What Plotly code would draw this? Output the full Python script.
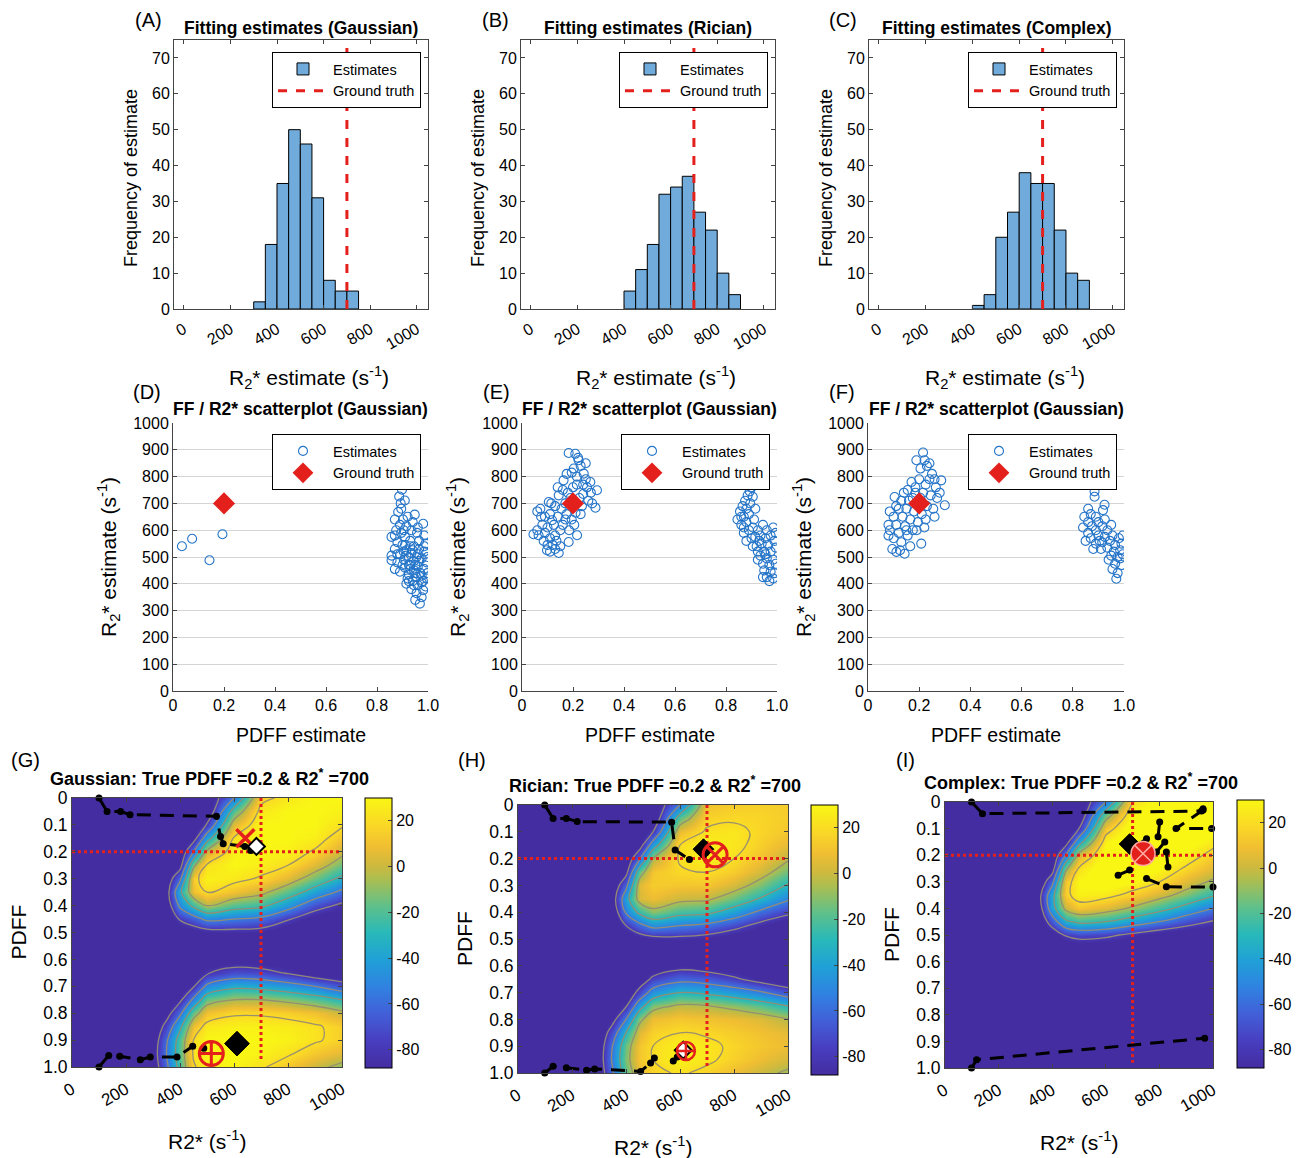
import plotly.graph_objects as go

W, H = 1303, 1158
OFF = 8  # default page (body) margin of the browser
FW, FH = W - OFF, H - OFF
FONT = 'Liberation Sans, Arial, Helvetica, sans-serif'

# ---------------- Row 1: histograms ----------------
HIST_A_CENTERS = [325, 375, 425, 475, 525, 575, 625, 675, 725]
HIST_A_COUNTS = [2, 18, 35, 50, 46, 31, 8, 5, 5]
HIST_B_CENTERS = [425, 475, 525, 575, 625, 675, 725, 775, 825, 875]
HIST_B_COUNTS = [5, 11, 18, 32, 34, 37, 27, 22, 10, 4]
HIST_C_CENTERS = [425, 475, 525, 575, 625, 675, 725, 775, 825, 875]
HIST_C_COUNTS = [1, 4, 20, 27, 38, 35, 35, 22, 10, 8]
TRUE_R2 = 700
TRUE_PDFF = 0.2
HIST_TITLES = ['Fitting estimates (Gaussian)', 'Fitting estimates (Rician)', 'Fitting estimates (Complex)']

# ---------------- Row 2: scatter estimates ----------------
D_X = [0.035, 0.075, 0.143, 0.194,
       0.898, 0.887, 0.909, 0.893, 0.883, 0.948, 0.981, 0.902, 0.915, 0.870, 0.935, 0.957, 0.875, 0.895, 0.857,
       0.910, 0.930, 0.965, 0.990, 0.880, 0.900, 0.945, 0.870, 0.915, 0.985, 0.935, 0.960, 0.890, 0.857, 0.925,
       0.975, 0.905, 0.945, 0.857, 0.880, 0.995, 0.930, 0.960, 0.910, 0.985, 0.945, 0.890, 0.970, 0.925, 0.955,
       0.995, 0.940, 0.975, 0.915, 0.960, 0.990, 0.935, 0.981, 0.955, 0.975, 0.968, 0.950, 0.920, 0.900, 0.870,
       0.880, 0.950, 0.930, 0.965, 0.905, 0.920, 0.940, 0.890, 0.985, 0.998, 0.998, 0.960, 0.980, 0.945, 0.925,
       0.910, 0.870, 0.895, 0.915, 0.940, 0.965, 0.985, 0.930, 0.955, 0.905, 0.975, 0.925, 0.950]
D_Y = [540, 568, 488, 585,
       751, 726, 711, 700, 668, 658, 624, 640, 615, 640, 600, 590, 600, 590, 575,
       575, 560, 560, 550, 555, 545, 540, 530, 525, 520, 515, 510, 510, 505, 500,
       495, 490, 485, 488, 480, 480, 470, 465, 460, 455, 450, 445, 440, 435, 425,
       420, 410, 405, 400, 395, 390, 380, 376, 365, 350, 326, 340, 420, 470, 455,
       510, 470, 540, 530, 600, 650, 630, 620, 580, 500, 440, 610, 410, 395, 470,
       545, 580, 680, 505, 525, 485, 540, 455, 500, 520, 430, 410, 440]
E_X = [0.183, 0.209, 0.222, 0.203, 0.242, 0.268, 0.294, 0.288, 0.163, 0.144, 0.105, 0.072, 0.065, 0.098, 0.144,
       0.216, 0.183, 0.118, 0.230, 0.250, 0.215, 0.255, 0.240, 0.200, 0.180, 0.225, 0.260, 0.205, 0.170, 0.155,
       0.130, 0.110, 0.090, 0.140, 0.175, 0.195, 0.125, 0.100, 0.080, 0.150, 0.130, 0.110, 0.085, 0.160, 0.060,
       0.045, 0.120, 0.150, 0.100, 0.075, 0.210, 0.235, 0.270, 0.195, 0.215, 0.240, 0.190, 0.160, 0.175, 0.250,
       0.135, 0.090, 0.115, 0.185, 0.205, 0.170, 0.130, 0.110, 0.060, 0.140, 0.230, 0.220, 0.275,
       0.900, 0.893, 0.885, 0.875, 0.905, 0.865, 0.880, 0.895, 0.855, 0.870, 0.890, 0.845, 0.860, 0.880, 0.910,
       0.905, 0.925, 0.890, 0.870, 0.945, 0.960, 0.985, 0.995, 0.935, 0.915, 0.955, 0.900, 0.880, 0.940, 0.965,
       0.990, 0.920, 0.950, 0.975, 0.995, 0.935, 0.960, 0.985, 0.945, 0.970, 0.995, 0.950, 0.975, 0.960, 0.985,
       0.945, 0.970, 0.990, 0.925, 0.905, 0.870, 0.860, 0.915, 0.930, 0.975, 0.955, 0.925]
E_Y = [888, 885, 861, 830, 811, 780, 749, 684, 786, 730, 705, 680, 581, 525, 515,
       581, 556, 637, 840, 790, 800, 760, 735, 760, 740, 720, 710, 700, 700, 680,
       690, 660, 650, 650, 660, 640, 620, 610, 620, 600, 580, 570, 560, 620, 600,
       585, 545, 540, 545, 650, 665, 690, 740, 815, 770, 770, 720, 750, 810, 850,
       560, 590, 700, 600, 620, 640, 530, 520, 670, 760, 660, 870, 700,
       760, 745, 730, 710, 725, 690, 680, 700, 670, 650, 660, 640, 620, 630, 640,
       610, 600, 600, 590, 620, 600, 610, 590, 580, 575, 570, 570, 560, 550, 545,
       560, 540, 520, 520, 535, 505, 495, 490, 475, 470, 475, 450, 445, 425, 420,
       425, 410, 440, 490, 540, 610, 650, 680, 560, 580, 510, 520]
F_X = [0.215, 0.221, 0.189, 0.230, 0.205, 0.250, 0.240, 0.286, 0.265, 0.300, 0.225, 0.200, 0.170, 0.155, 0.185,
       0.215, 0.245, 0.270, 0.104, 0.130, 0.160, 0.195, 0.230, 0.255, 0.120, 0.150, 0.180, 0.210, 0.085, 0.100,
       0.135, 0.165, 0.195, 0.225, 0.080, 0.110, 0.145, 0.175, 0.085, 0.120, 0.155, 0.100, 0.208, 0.130, 0.080,
       0.111, 0.143, 0.125, 0.095, 0.165, 0.185, 0.240, 0.260, 0.205, 0.175, 0.140, 0.110, 0.280, 0.150, 0.190,
       0.220, 0.260,
       0.885, 0.885, 0.924, 0.918, 0.860, 0.845, 0.870, 0.890, 0.900, 0.860, 0.840, 0.875, 0.915, 0.935, 0.950,
       0.890, 0.860, 0.870, 0.900, 0.925, 0.955, 0.980, 0.995, 0.945, 0.915, 0.890, 0.965, 0.990, 0.935, 0.960,
       0.985, 0.910, 0.950, 0.975, 0.995, 0.940, 0.965, 0.990, 0.955, 0.975, 0.970, 0.850, 0.880, 0.925, 0.905,
       0.985]
F_Y = [890, 861, 861, 840, 830, 810, 790, 786, 760, 693, 770, 790, 780, 750, 740,
       740, 730, 720, 724, 710, 710, 705, 690, 680, 680, 680, 670, 660, 670, 650,
       650, 640, 630, 640, 620, 620, 615, 600, 600, 590, 580, 570, 550, 555, 580,
       519, 512, 525, 530, 540, 760, 850, 790, 720, 720, 740, 690, 740, 600, 600,
       610, 650,
       745, 725, 695, 675, 680, 650, 660, 650, 630, 630, 610, 615, 615, 600, 620,
       600, 590, 570, 580, 575, 580, 570, 580, 560, 555, 550, 545, 550, 535, 520,
       525, 530, 505, 500, 510, 490, 475, 470, 455, 440, 419, 560, 530, 640, 560,
       495]
SCATTER_TITLE = 'FF / R2* scatterplot (Gaussian)'

# ---------------- Row 3: likelihood maps ----------------
R_GRID = [0, 200, 300, 350, 400, 450, 500, 600, 700, 800, 900, 1000]
P_GRID = [0.0, 0.05, 0.1, 0.15, 0.2, 0.25, 0.3, 0.35, 0.4, 0.45, 0.5,
          0.55, 0.6, 0.65, 0.7, 0.75, 0.8, 0.85, 0.9, 0.95, 1.0]
G_Z = [
    [-100, -100, -100, -100, -100, -100, -100, -55, 15, 25, 30, 30],
    [-100, -100, -100, -100, -100, -100, -100, -20, 25, 30, 30, 28],
    [-100, -100, -100, -100, -100, -100, -78, 5, 30, 30, 30, 22],
    [-100, -100, -100, -100, -100, -90, -40, 22, 30, 30, 27, 12],
    [-100, -100, -100, -100, -100, -55, 0, 28, 30, 28, 18, 0],
    [-100, -100, -100, -100, -90, -10, 22, 30, 27, 20, 5, -15],
    [-100, -100, -100, -95, -60, 15, 28, 25, 18, 5, -15, -35],
    [-100, -100, -100, -90, -35, 10, 20, 10, 0, -18, -40, -60],
    [-100, -100, -100, -95, -50, -25, -5, -20, -25, -45, -70, -85],
    [-100, -100, -100, -100, -78, -65, -50, -55, -60, -78, -95, -100],
    [-100, -100, -100, -100, -100, -95, -90, -88, -90, -100, -100, -100],
    [-100, -100, -100, -100, -100, -100, -100, -100, -100, -100, -100, -100],
    [-100, -100, -100, -100, -100, -100, -100, -95, -98, -100, -100, -100],
    [-100, -100, -100, -100, -100, -100, -82, -70, -72, -82, -95, -100],
    [-100, -100, -100, -100, -100, -82, -50, -35, -38, -45, -55, -70],
    [-100, -100, -100, -100, -85, -50, -15, -5, -5, -10, -18, -30],
    [-100, -100, -100, -90, -60, -15, 10, 18, 18, 15, 10, 0],
    [-100, -100, -100, -72, -35, 10, 25, 28, 28, 26, 22, 15],
    [-100, -100, -95, -58, -20, 20, 30, 30, 30, 28, 22, 15],
    [-100, -100, -92, -55, -18, 22, 30, 30, 28, 22, 12, 5],
    [-100, -100, -95, -60, -22, 18, 28, 30, 22, 12, 0, -10],
]
H_Z = [
    [-100, -100, -100, -100, -100, -100, -100, -55, 10, 14, 15, 14],
    [-100, -100, -100, -100, -100, -100, -100, -18, 16, 18, 17, 14],
    [-100, -100, -100, -100, -100, -100, -80, 8, 22, 24, 17, 12],
    [-100, -100, -100, -100, -100, -92, -42, 20, 28, 24, 15, 6],
    [-100, -100, -100, -100, -100, -58, -5, 22, 28, 20, 10, -3],
    [-100, -100, -100, -100, -88, -15, 12, 18, 20, 14, 2, -15],
    [-100, -100, -100, -98, -62, 5, 14, 12, 12, 3, -12, -32],
    [-100, -100, -100, -92, -40, 3, 8, 0, -2, -15, -32, -52],
    [-100, -100, -100, -98, -52, -25, -10, -22, -25, -40, -60, -75],
    [-100, -100, -100, -100, -80, -62, -48, -55, -60, -72, -88, -100],
    [-100, -100, -100, -100, -100, -92, -88, -86, -90, -98, -100, -100],
    [-100, -100, -100, -100, -100, -100, -100, -100, -100, -100, -100, -100],
    [-100, -100, -100, -100, -100, -100, -98, -88, -92, -100, -100, -100],
    [-100, -100, -100, -100, -100, -95, -75, -62, -66, -76, -90, -100],
    [-100, -100, -100, -100, -100, -72, -45, -30, -34, -42, -52, -68],
    [-100, -100, -100, -100, -82, -40, -12, -2, -4, -10, -18, -30],
    [-100, -100, -100, -88, -55, -10, 8, 12, 10, 8, 4, -4],
    [-100, -100, -100, -68, -30, 5, 16, 20, 18, 14, 10, 6],
    [-100, -100, -95, -55, -15, 12, 20, 28, 24, 17, 12, 8],
    [-100, -100, -93, -52, -12, 12, 20, 28, 23, 15, 8, 2],
    [-100, -100, -96, -58, -18, 8, 16, 22, 16, 8, 0, -8],
]
I_Z = [
    [-100, -100, -100, -100, -100, -100, -100, -55, 20, 35, 40, 40],
    [-100, -100, -100, -100, -100, -100, -100, -15, 32, 40, 40, 38],
    [-100, -100, -100, -100, -100, -100, -80, 12, 38, 40, 40, 33],
    [-100, -100, -100, -100, -100, -92, -40, 28, 40, 40, 36, 25],
    [-100, -100, -100, -100, -100, -55, 2, 35, 40, 38, 28, 15],
    [-100, -100, -100, -100, -92, -10, 22, 38, 38, 30, 18, 5],
    [-100, -100, -100, -100, -62, 12, 30, 35, 30, 20, 5, -8],
    [-100, -100, -100, -88, -38, 15, 28, 25, 15, 2, -12, -28],
    [-100, -100, -100, -92, -40, 0, 12, 5, -8, -22, -38, -55],
    [-100, -100, -100, -100, -68, -35, -25, -30, -42, -55, -70, -82],
    [-100, -100, -100, -100, -95, -78, -72, -75, -85, -95, -100, -100],
    [-100, -100, -100, -100, -100, -100, -98, -100, -100, -100, -100, -100],
    [-100] * 12, [-100] * 12, [-100] * 12, [-100] * 12, [-100] * 12,
    [-100] * 12, [-100] * 12, [-100] * 12, [-100] * 12,
]
CBAR_TICKS = [20, 0, -20, -40, -60, -80]
MAP_TITLES = ['Gaussian', 'Rician', 'Complex']

# optimisation paths (R2*, PDFF)
G_PATH1_R = [100, 130, 180, 215, 535, 550, 560, 640, 662]
G_PATH1_P = [0.0, 0.05, 0.05, 0.062, 0.068, 0.143, 0.17, 0.18, 0.195]
G_PATH2_R = [100, 136, 177, 253, 290, 389, 447, 488]
G_PATH2_P = [1.0, 0.957, 0.96, 0.973, 0.963, 0.963, 0.923, 0.93]
G_REDX = (642, 0.15)
G_WHITE_D = (683, 0.18)
G_RED_CIRC = (516, 0.95)
G_BLACK_D = (611, 0.913)

H_PATH1_R = [99, 130, 179, 219, 569, 582, 635]
H_PATH1_P = [0.0, 0.05, 0.05, 0.062, 0.064, 0.168, 0.203]
H_PATH2_R = [99, 130, 179, 254, 284, 454, 491, 505, None, 575, 590]
H_PATH2_P = [1.0, 0.975, 0.98, 0.99, 0.985, 0.994, 0.963, 0.944, None, 0.955, 0.94]
H_BLACK_D = (687, 0.165)
H_RED_CIRC = (730, 0.186)
H_WHITE_D = (612, 0.915)
H_RED_CIRC2 = (622, 0.918)

I_DASH_R = [99, 140, 957, 963, None, 963, 862, 995, None, 752, 826, 1000, None, 99, 118, 969]
I_DASH_P = [0.0, 0.044, 0.034, 0.025, None, 0.03, 0.1, 0.1, None, 0.288, 0.319, 0.32, None, 1.0, 0.969, 0.888]
I_SOLID_R = [801, 795, None, 708, 752, None, 820, 789, None, 826, 832, None, 689, 646]
I_SOLID_P = [0.075, 0.131, None, 0.169, 0.138, None, 0.15, 0.188, None, 0.188, 0.244, None, 0.256, 0.275]
I_BLACK_D = (689, 0.158)
I_RED_CIRC = (739, 0.194)

PARULA = [[0.0, 'rgb(68,45,160)'], [0.1, 'rgb(72,62,192)'], [0.2, 'rgb(66,95,216)'],
          [0.3, 'rgb(48,130,225)'], [0.4, 'rgb(32,160,215)'], [0.5, 'rgb(40,185,185)'],
          [0.6, 'rgb(95,192,138)'], [0.7, 'rgb(172,190,80)'], [0.75, 'rgb(206,185,62)'],
          [0.82, 'rgb(240,190,50)'], [0.9, 'rgb(250,216,38)'], [1.0, 'rgb(249,246,20)']]

RED = 'rgb(228,32,28)'
BLUE = 'rgb(36,116,200)'
BAR = 'rgb(112,171,219)'

# ---------------- layout geometry (pixels in the reference picture) ----------------
BOXES = {
    1: (174, 428, 40, 309), 2: (521, 775, 40, 309), 3: (869, 1124, 40, 309),
    4: (173, 428, 423, 691), 5: (522, 777, 423, 691), 6: (868, 1124, 423, 691),
    7: (72, 342, 798, 1067), 8: (518, 788, 805, 1073), 9: (945, 1213, 802, 1068),
}
CBARS = {7: (365, 798, 1068), 8: (811, 805, 1075), 9: (1237, 800, 1068)}


def fx(px):
    return (px - OFF) / FW


def fy(py):
    return 1 - (py - OFF) / FH


def xd(l, r):
    return [fx(l), fx(r)]


def yd(t, b):
    return [fy(b), fy(t)]


fig = go.Figure()
layout = dict(width=FW, height=FH, margin=dict(l=0, r=0, t=0, b=0, autoexpand=False), paper_bgcolor='white',
              plot_bgcolor='white', font=dict(family=FONT, color='black'), showlegend=True)
ann = []


def axn(i):
    return ('x', 'y') if i == 1 else ('x%d' % i, 'y%d' % i)


def text(t, x, y, size, angle=0, anchor='center'):
    ann.append(dict(text=t, x=fx(x), y=fy(y), xref='paper', yref='paper', showarrow=False,
                    font=dict(size=size, family=FONT, color='black'), textangle=angle,
                    xanchor=anchor, yanchor='middle'))


AX_COMMON = dict(showline=True, linecolor='#444', linewidth=1, ticks='inside', ticklen=4,
                 tickcolor='#444', zeroline=False, showgrid=False, automargin=False,
                 tickfont=dict(size=16, family=FONT))

# Row 1 axes + traces
hist = [(HIST_A_CENTERS, HIST_A_COUNTS), (HIST_B_CENTERS, HIST_B_COUNTS), (HIST_C_CENTERS, HIST_C_COUNTS)]
for k in range(3):
    i = k + 1
    l, r, t, b = BOXES[i]
    xa, ya = axn(i)
    lg = 'legend' if i == 1 else 'legend%d' % i
    layout['xaxis' if i == 1 else 'xaxis%d' % i] = dict(
        AX_COMMON, domain=xd(l, r), anchor=ya, range=[-42, 1048], mirror='ticks',
        tickvals=[0, 200, 400, 600, 800, 1000], tickangle=-30, ticklabelstandoff=4)
    layout['yaxis' if i == 1 else 'yaxis%d' % i] = dict(
        AX_COMMON, domain=yd(t, b), anchor=xa, range=[0, 75], mirror='ticks',
        tickvals=list(range(0, 71, 10)))
    cx, cy = hist[k]
    fig.add_trace(go.Bar(x=cx, y=cy, width=50, marker=dict(color=BAR, line=dict(color='black', width=1)),
                         name='Estimates', xaxis=xa, yaxis=ya, legend=lg))
    fig.add_trace(go.Scatter(x=[TRUE_R2, TRUE_R2], y=[0, 75], mode='lines', name='Ground truth',
                             line=dict(color=RED, width=3, dash='dash'), xaxis=xa, yaxis=ya, legend=lg))
    layout[lg] = dict(x=fx(r - 7), y=fy(52), xanchor='right', yanchor='top', bgcolor='white',
                      bordercolor='black', borderwidth=1, font=dict(size=14.5, family=FONT),
                      itemwidth=50, tracegroupgap=0, traceorder='normal')
    cxm = (l + r) / 2
    text('<b>%s</b>' % HIST_TITLES[k], cxm, 28, 17.5)
    text('Frequency of estimate', l - 43, 178, 18, angle=-90)
    text('R<sub>2</sub>* estimate (s<sup>-1</sup>)', cxm + 8, 378, 21)
    text('(%s)' % 'ABC'[k], l - 26, 20, 20)

# Row 2
scat = [(D_X, D_Y), (E_X, E_Y), (F_X, F_Y)]
for k in range(3):
    i = k + 4
    l, r, t, b = BOXES[i]
    xa, ya = axn(i)
    lg = 'legend%d' % i
    layout['xaxis%d' % i] = dict(AX_COMMON, domain=xd(l, r), anchor=ya, range=[0, 1],
                                 tickvals=[0, 0.2, 0.4, 0.6, 0.8, 1.0],
                                 ticktext=['0', '0.2', '0.4', '0.6', '0.8', '1.0'])
    layout['yaxis%d' % i] = dict(AX_COMMON, domain=yd(t, b), anchor=xa, range=[0, 1000],
                                 tickvals=list(range(0, 1001, 100)), showgrid=True,
                                 gridcolor='#d4d4d4', gridwidth=1)
    sx, sy = scat[k]
    fig.add_trace(go.Scatter(x=sx, y=sy, mode='markers', name='Estimates', xaxis=xa, yaxis=ya, legend=lg,
                             marker=dict(symbol='circle-open', size=9, color=BLUE, line=dict(width=1.1))))
    fig.add_trace(go.Scatter(x=[TRUE_PDFF], y=[TRUE_R2], mode='markers', name='Ground truth', xaxis=xa,
                             yaxis=ya, legend=lg,
                             marker=dict(symbol='diamond', size=17, color=RED)))
    layout[lg] = dict(x=fx(r - 7), y=fy(434), xanchor='right', yanchor='top', bgcolor='white',
                      bordercolor='black', borderwidth=1, font=dict(size=14.5, family=FONT),
                      itemwidth=50, tracegroupgap=0, traceorder='normal')
    cxm = (l + r) / 2
    text('<b>%s</b>' % SCATTER_TITLE, cxm, 409, 17.5)
    text('R<sub>2</sub>* estimate (s<sup>-1</sup>)', l - 65, 557, 21, angle=-90)
    text('PDFF estimate', cxm, 735, 19.5)
    text('(%s)' % 'DEF'[k], l - 26, 392, 20)

# Row 3
maps = [G_Z, H_Z, I_Z]
for k in range(3):
    i = k + 7
    l, r, t, b = BOXES[i]
    xa, ya = axn(i)
    layout['xaxis%d' % i] = dict(AX_COMMON, domain=xd(l, r), anchor=ya, range=[0, 1000], mirror='ticks',
                                 tickvals=[0, 200, 400, 600, 800, 1000], tickangle=-30, layer='above traces',
                                 tickfont=dict(size=17, family=FONT), ticklabelstandoff=5)
    layout['yaxis%d' % i] = dict(AX_COMMON, domain=yd(t, b), anchor=xa, range=[1.0, 0], mirror='ticks',
                                 tickvals=[round(v * 0.1, 1) for v in range(11)],
                                 ticktext=['0'] + ['%.1f' % (v * 0.1) for v in range(1, 11)],
                                 tickfont=dict(size=17.5, family=FONT), layer='above traces')
    cbx, cbt, cbb = CBARS[i]
    fig.add_trace(go.Heatmap(x=R_GRID, y=P_GRID, z=maps[k], zmin=-88, zmax=30, colorscale=PARULA,
                             zsmooth='best', xaxis=xa, yaxis=ya, showlegend=False,
                             colorbar=dict(x=fx(cbx), xanchor='left', y=fy((cbt + cbb) / 2),
                                           yanchor='middle', len=(cbb - cbt) / FH, lenmode='fraction',
                                           thickness=27, thicknessmode='pixels', xpad=0, ypad=0,
                                           outlinecolor='black', outlinewidth=1, ticks='inside',
                                           ticklen=4, tickvals=CBAR_TICKS,
                                           ticktext=[str(v) for v in CBAR_TICKS],
                                           tickfont=dict(size=16, family=FONT))))
    fig.add_trace(go.Contour(x=R_GRID, y=P_GRID, z=maps[k], showscale=False, showlegend=False,
                             contours=dict(coloring='none', start=-80, end=20, size=25),
                             line=dict(color='rgba(150,140,115,0.95)', width=1.3, smoothing=1.2),
                             xaxis=xa, yaxis=ya, hoverinfo='skip'))
    # red dotted truth lines
    fig.add_trace(go.Scatter(x=[TRUE_R2, TRUE_R2], y=[0, 0.98], mode='lines', showlegend=False,
                             line=dict(color=RED, width=3, dash='dot'), xaxis=xa, yaxis=ya))
    fig.add_trace(go.Scatter(x=[0, 1000], y=[TRUE_PDFF, TRUE_PDFF], mode='lines', showlegend=False,
                             line=dict(color=RED, width=3, dash='dot'), xaxis=xa, yaxis=ya))
    cxm = (l + r) / 2
    text('<b>%s: True PDFF =0.2 &amp; R2<sup>*</sup> =700</b>' % MAP_TITLES[k], cxm + 2, t - 21, 18)
    text('PDFF', l - 54, (t + b) / 2, 21, angle=-90)
    text('R2* (s<sup>-1</sup>)', cxm, b + 73, 21)
    text('(%s)' % 'GHI'[k], [25, 472, 905][k], 760, 20)


def path(i, rs, ps, dash=True):
    xa, ya = axn(i)
    fig.add_trace(go.Scatter(x=rs, y=ps, mode='lines+markers', showlegend=False, cliponaxis=False,
                             line=dict(color='black', width=3, dash='14px,9px' if dash else 'solid'),
                             marker=dict(color='black', size=7), xaxis=xa, yaxis=ya, connectgaps=False))


def mark(i, pt, symbol, size, color, lcolor, lwidth):
    xa, ya = axn(i)
    fig.add_trace(go.Scatter(x=[pt[0]], y=[pt[1]], mode='markers', showlegend=False, cliponaxis=False,
                             marker=dict(symbol=symbol, size=size, color=color,
                                         line=dict(color=lcolor, width=lwidth)), xaxis=xa, yaxis=ya))


# G
path(7, G_PATH1_R, G_PATH1_P)
path(7, G_PATH2_R, G_PATH2_P)
mark(7, G_REDX, 'x-thin-open', 18, RED, RED, 3.5)
mark(7, G_WHITE_D, 'diamond', 13, 'white', 'black', 2)
mark(7, G_BLACK_D, 'diamond', 19, 'black', 'black', 1)
mark(7, G_RED_CIRC, 'circle-cross-open', 24, RED, RED, 3)
# H
path(8, H_PATH1_R, H_PATH1_P)
path(8, H_PATH2_R, H_PATH2_P)
mark(8, H_BLACK_D, 'diamond', 16, 'black', 'black', 1)
mark(8, H_RED_CIRC, 'circle-x-open', 24, RED, RED, 3)
mark(8, H_WHITE_D, 'diamond', 13, 'white', 'black', 2)
mark(8, H_RED_CIRC2, 'circle-cross-open', 18, RED, RED, 2.5)
# I
path(9, I_DASH_R, I_DASH_P)
path(9, I_SOLID_R, I_SOLID_P, dash=False)
mark(9, I_BLACK_D, 'diamond', 16, 'black', 'black', 1)
mark(9, I_RED_CIRC, 'circle-x', 24, RED, 'rgb(255,170,160)', 1.5)

layout['annotations'] = ann
fig.update_layout(**layout)
fig.write_html('out.html')
